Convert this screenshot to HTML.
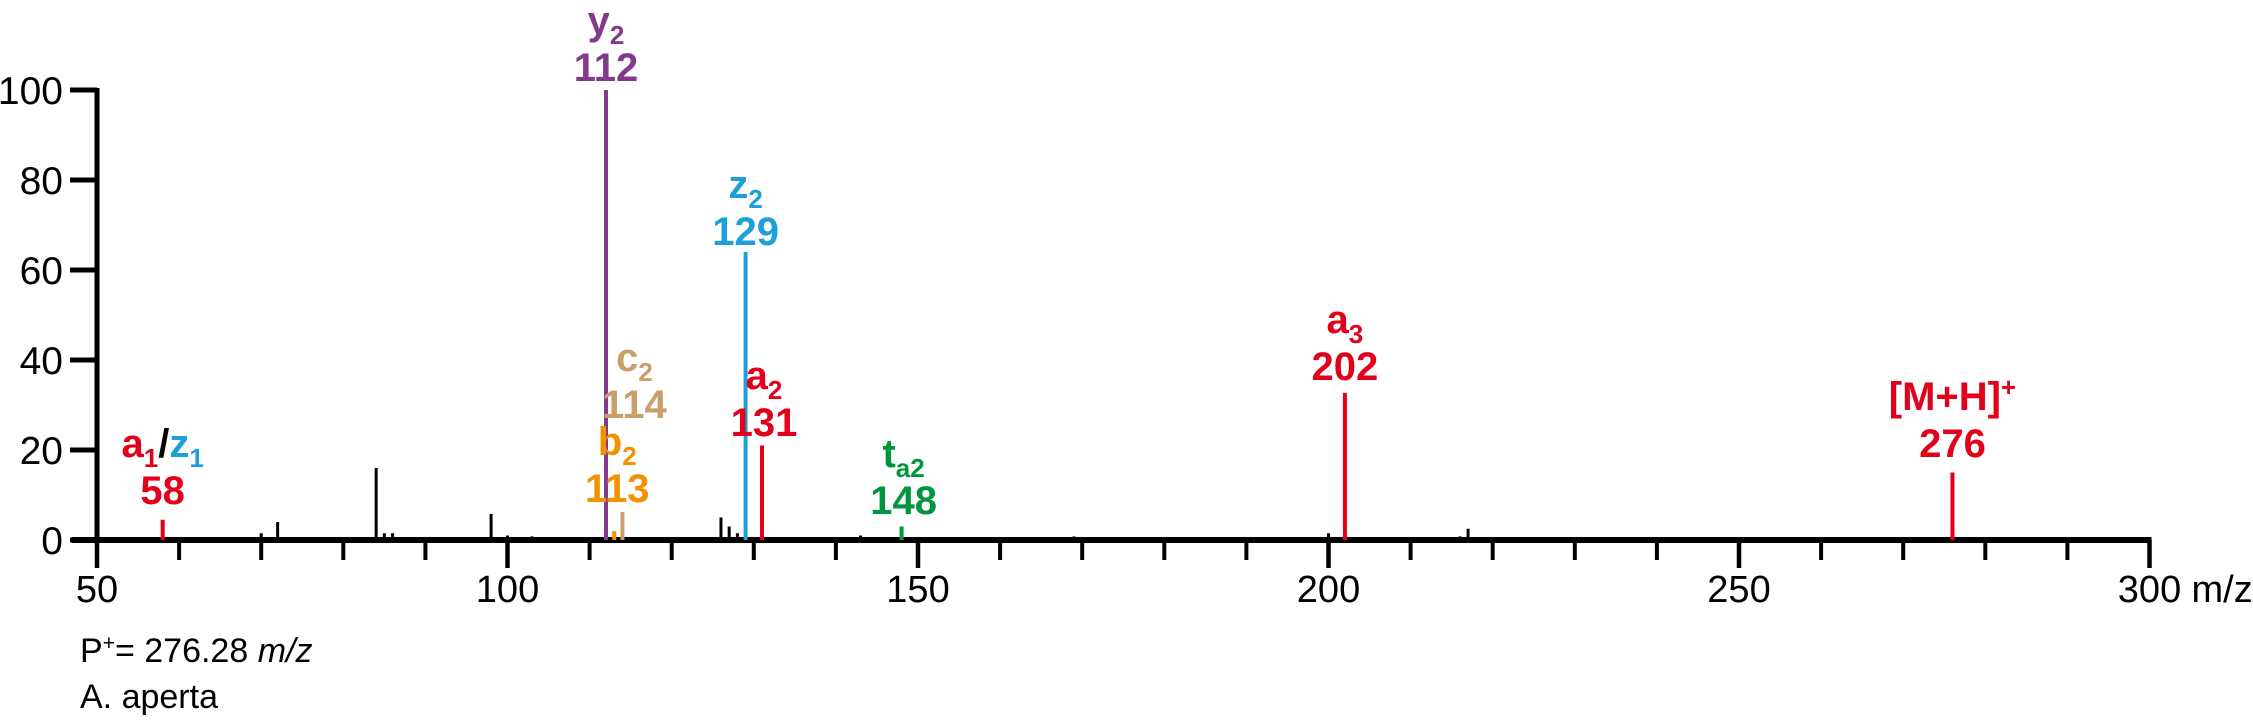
<!DOCTYPE html>
<html><head><meta charset="utf-8"><style>
html,body{margin:0;padding:0;background:#fff;}
svg{display:block;font-family:"Liberation Sans",Arial,sans-serif;}
</style></head><body>
<svg id="chart" width="2253" height="720" viewBox="0 0 2253 720" xmlns="http://www.w3.org/2000/svg">
<g id="axes"></g>
<g id="peaks"></g>
<g id="labels"></g>
<text x="80" y="662" font-size="34">P<tspan font-size="21" dy="-12">+</tspan><tspan dy="12">= 276.28 </tspan><tspan font-style="italic">m/z</tspan></text>
<text x="80" y="708" font-size="34">A. aperta</text>
</svg>
<script>
const mzValues = [58,70,72,84,85,86,98,100,103,112,113,114,115,126,127,128,129,131,143,145,148,157,169,181,185,200,202,205,216,217,276];
const intensities = [4.5,1.5,4,16,1.5,1.5,5.8,1,0.8,100,2,6.2,0.6,5,3,1.5,64,21,1,0.6,3,0.4,0.8,0.5,0.5,1.5,32.7,0.6,0.8,2.5,15];
const peakColors = ["#e2001a","#000","#000","#000","#000","#000","#000","#000","#000","#833a8c","#f39200","#c9a06c","#000","#000","#000","#000","#1ca0dc","#e2001a","#000","#000","#00963f","#000","#000","#000","#000","#000","#e2001a","#000","#000","#000","#e2001a"];
const yTicks = [0,20,40,60,80,100];
const xMajor = [50,100,150,200,250,300];
const xMinor = [60,70,80,90,110,120,130,140,160,170,180,190,210,220,230,240,260,270,280,290];
const annoMz = [58,112,113,114,129,131,148,202,276];
const annoLabel = ["58","112","113","114","129","131","148","202","276"];
const annoColor = ["#e2001a","#833a8c","#f39200","#c9a06c","#1ca0dc","#e2001a","#00963f","#e2001a","#e2001a"];
const annoNumY = [504,81,502,418,245,436,514,380,457];
const annoXOff = [0,0,3,12,0,2,2,0,0];

const NS="http://www.w3.org/2000/svg";
const X0=97, PX=8.21, Y0=540, PY=4.5;
function xs(m){return X0+(m-50)*PX;}
function ys(v){return Y0-v*PY;}
function mk(tag,attrs,parent){const e=document.createElementNS(NS,tag);for(const k in attrs)e.setAttribute(k,attrs[k]);parent.appendChild(e);return e;}
const axes=document.getElementById('axes'), peaks=document.getElementById('peaks'), labels=document.getElementById('labels');

let e=mk('line',{x1:X0,y1:ys(100)-2,x2:X0,y2:Y0+2,stroke:'#000','stroke-width':5},axes);


e=mk('line',{x1:X0-25,y1:Y0,x2:xs(300)+2,y2:Y0,stroke:'#000','stroke-width':6},axes);


yTicks.forEach(v=>{
  let t=mk('line',{x1:X0-27,y1:ys(v),x2:X0,y2:ys(v),stroke:'#000','stroke-width':5},axes);
  
  
  let l=mk('text',{x:X0-34,y:ys(v)+14,'font-size':39,'text-anchor':'end'},axes);
  l.textContent=v;
  
  
});
xMajor.forEach(v=>{
  let t=mk('line',{x1:xs(v),y1:Y0,x2:xs(v),y2:Y0+28,stroke:'#000','stroke-width':4.5},axes);
  
  
  let l=mk('text',{x:xs(v),y:602,'font-size':38,'text-anchor':'middle'},axes);
  l.textContent=v;
  
  
});
let u=mk('text',{x:xs(300)+42,y:602,'font-size':38},axes);
u.textContent='m/z';


xMinor.forEach(v=>{
  let t=mk('line',{x1:xs(v),y1:Y0,x2:xs(v),y2:Y0+20,stroke:'#000','stroke-width':4},axes);
  
  
});
mzValues.forEach((m,i)=>{
  let p=mk('line',{x1:xs(m),y1:ys(intensities[i]),x2:xs(m),y2:Y0,stroke:peakColors[i],'stroke-width':peakColors[i]==='#000'?3:4},peaks);
  
  
});
const ionHtml = {
  58:'<tspan fill="#e2001a">a</tspan><tspan fill="#e2001a" font-size="26" dy="10">1</tspan><tspan fill="#000" dy="-10">/</tspan><tspan fill="#1ca0dc">z</tspan><tspan fill="#1ca0dc" font-size="26" dy="10">1</tspan>',
  112:'y<tspan font-size="26" dy="10">2</tspan>',
  113:'b<tspan font-size="26" dy="10">2</tspan>',
  114:'c<tspan font-size="26" dy="10">2</tspan>',
  129:'z<tspan font-size="26" dy="10">2</tspan>',
  131:'a<tspan font-size="26" dy="10">2</tspan>',
  148:'t<tspan font-size="26" dy="10">a2</tspan>',
  202:'a<tspan font-size="26" dy="10">3</tspan>',
  276:'[M+H]<tspan font-size="26" dy="-14">+</tspan>'
};
annoMz.forEach((m,i)=>{
  const cx=xs(m)+annoXOff[i];
  let n=mk('text',{x:cx,y:annoNumY[i],'font-size':40,'font-weight':'bold','text-anchor':'middle',fill:annoColor[i]},labels);
  n.textContent=annoLabel[i];
  
  
  let t=mk('text',{x:cx,y:annoNumY[i]-47,'font-size':40,'font-weight':'bold','text-anchor':'middle',fill:annoColor[i]},labels);
  t.innerHTML=ionHtml[m];
  
  
});
</script>
</body></html>
